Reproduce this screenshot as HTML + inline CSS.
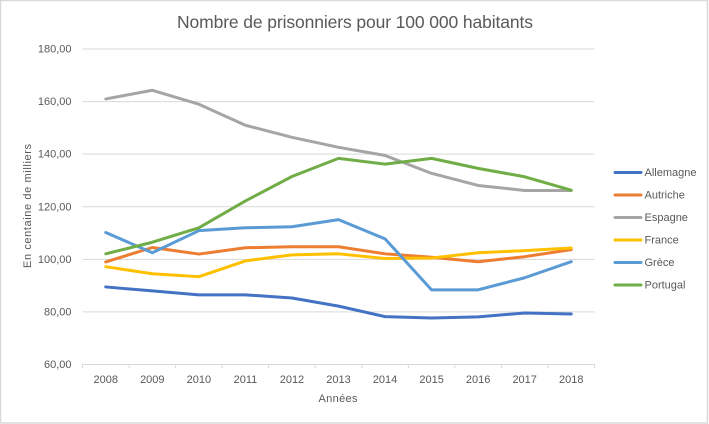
<!DOCTYPE html>
<html lang="fr">
<head>
<meta charset="utf-8">
<title>Nombre de prisonniers pour 100 000 habitants</title>
<style>
html,body{margin:0;padding:0;background:#fff;width:709px;height:424px;overflow:hidden}
svg{display:block;font-family:"Liberation Sans",sans-serif}
text{fill:#595959}
</style>
</head>
<body>
<svg id="chart" width="709" height="424" viewBox="0 0 709 424" xmlns="http://www.w3.org/2000/svg">
<rect x="0.5" y="0.5" width="707" height="422.5" fill="#fff" stroke="#d9d9d9" stroke-width="1.5"/>
<text x="355" y="28" text-anchor="middle" font-size="17.5" textLength="356" lengthAdjust="spacing">Nombre de prisonniers pour 100 000 habitants</text>
<text transform="translate(31 206) rotate(-90)" text-anchor="middle" font-size="11" textLength="124" lengthAdjust="spacing">En centaine de milliers</text>
<text x="338" y="402" text-anchor="middle" font-size="11" textLength="39" lengthAdjust="spacing">Années</text>
<g id="grid"></g>
<g id="yticks"></g>
<g id="xaxis"></g>
<g id="series"></g>
<g id="legend"></g>
</svg>
<script>
const years = ['2008','2009','2010','2011','2012','2013','2014','2015','2016','2017','2018'];
const yTickValues = [60,80,100,120,140,160,180];
const yTickLabels = ['60,00','80,00','100,00','120,00','140,00','160,00','180,00'];
const seriesNames = ['Allemagne','Autriche','Espagne','France','Grèce','Portugal'];
const seriesColors = ['#4472c4','#ed7d31','#a5a5a5','#ffc000','#5b9bd5','#70ad47'];
const allemagne = [89.5,88,86.5,86.5,85.3,82.2,78.2,77.7,78.1,79.6,79.2];
const autriche = [99,104.5,102,104.4,104.8,104.8,102.1,100.8,99.1,101,103.7];
const espagne = [161,164.3,159,151,146.4,142.6,139.5,132.7,128.1,126.2,126.2];
const france = [97.2,94.5,93.4,99.4,101.7,102.1,100.3,100.5,102.5,103.3,104.3];
const grece = [110.2,102.5,110.9,112,112.4,115.1,107.8,88.4,88.4,93,99.1];
const portugal = [102.1,106.5,112,122.2,131.5,138.4,136.2,138.4,134.6,131.4,126.3];
const seriesValues = [allemagne,autriche,espagne,france,grece,portugal];

const NS = 'http://www.w3.org/2000/svg';
const plot = {left:82.5,right:594.5,top:49,bottom:364.5};
const yMin = 60, yMax = 180;
const bandWidth = (plot.right-plot.left)/years.length;
function xScale(i){return plot.left+bandWidth*(i+0.5);}
function yScale(v){return plot.bottom-(v-yMin)/(yMax-yMin)*(plot.bottom-plot.top);}
function make(tag,attrs,parent){
  const el=document.createElementNS(NS,tag);
  for(const k in attrs){el.setAttribute(k,attrs[k]);}
  parent.appendChild(el);
  return el;
}
const grid=document.getElementById('grid');
const yticks=document.getElementById('yticks');
yTickValues.forEach(function(v,i){
  if(v!==yMin){
    const line=make('line',{x1:plot.left,x2:plot.right,y1:yScale(v),y2:yScale(v),stroke:'#d9d9d9','stroke-width':1},grid);
    
    
  }
  const t=make('text',{x:71.5,y:yScale(v)+3.5,'text-anchor':'end','font-size':11},yticks);
  
  
  t.textContent=yTickLabels[i];
});
const xaxis=document.getElementById('xaxis');
const axisLine=make('line',{x1:plot.left,x2:plot.right,y1:plot.bottom,y2:plot.bottom,stroke:'#d9d9d9','stroke-width':1},xaxis);


for(let i=0;i<=years.length;i++){
  const x=plot.left+bandWidth*i;
  const tick=make('line',{x1:x,x2:x,y1:plot.bottom,y2:plot.bottom+3.5,stroke:'#d9d9d9','stroke-width':1},xaxis);
  
  
}
years.forEach(function(y,i){
  const t=make('text',{x:xScale(i),y:383,'text-anchor':'middle','font-size':11},xaxis);
  
  
  t.textContent=y;
});
const seriesGroup=document.getElementById('series');
seriesValues.forEach(function(vals,s){
  const pts=vals.map(function(v,i){return xScale(i).toFixed(2)+','+yScale(v).toFixed(2);}).join(' ');
  const pl=make('polyline',{points:pts,fill:'none',stroke:seriesColors[s],'stroke-width':3,'stroke-linecap':'round','stroke-linejoin':'round'},seriesGroup);
  
  
});
const legend=document.getElementById('legend');
const legendTop=172.5, legendStep=22.5;
seriesNames.forEach(function(n,s){
  const y=legendTop+legendStep*s;
  const key=make('line',{x1:615,x2:641,y1:y,y2:y,stroke:seriesColors[s],'stroke-width':3,'stroke-linecap':'round'},legend);
  
  
  const t=make('text',{x:644.5,y:y+3.5,'font-size':11},legend);
  
  
  t.textContent=n;
});
</script>
</body>
</html>
